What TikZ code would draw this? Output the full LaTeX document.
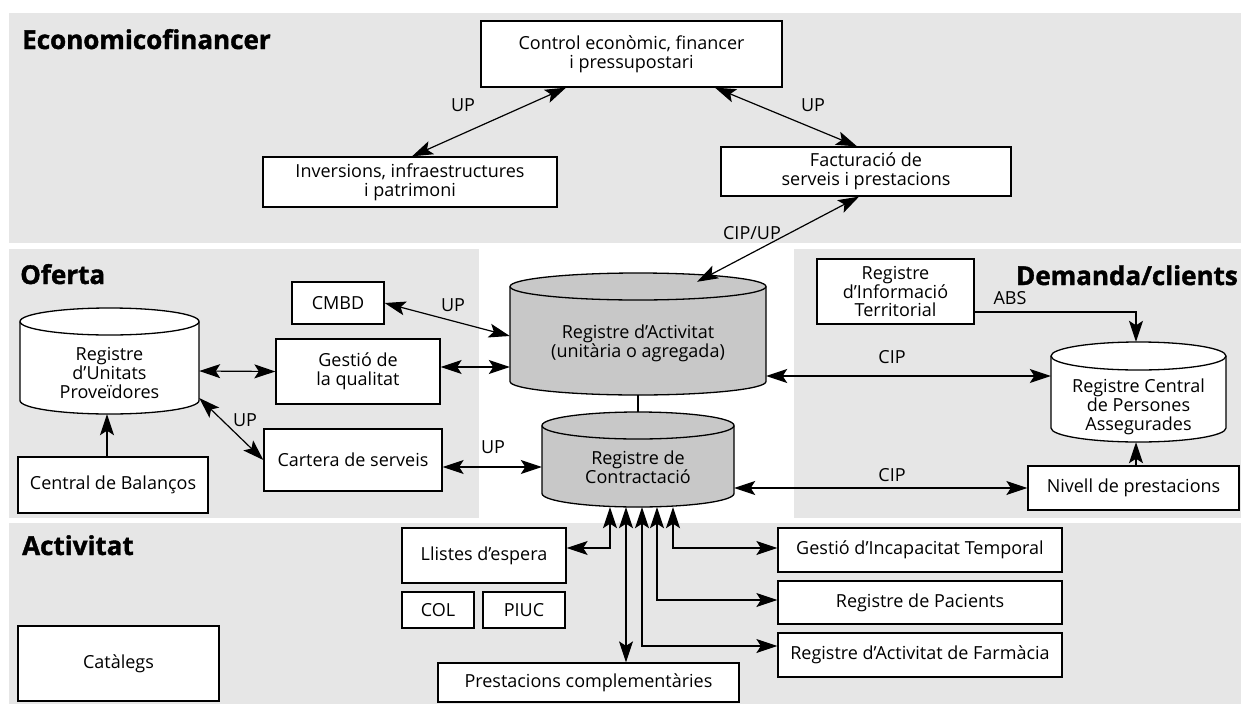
\documentclass[tikz,border=0pt]{standalone}
\usepackage{fontspec}
\setmainfont{Open Sans}
\newfontfamily\headfamily{Open Sans}[BoldFeatures={FakeBold=1.5}]
\usetikzlibrary{arrows.meta,calc}

\definecolor{panelgray}{RGB}{230,230,230}
\definecolor{drumgray}{RGB}{200,200,200}

\newcommand\bodytext{\fontsize{18}{19}\selectfont}
\newcommand\headtext{\headfamily\fontsize{26}{27}\selectfont\bfseries}

% vertical database drum: x1, x2, y top, y bottom, ellipse y radius, fill colour
\newcommand\dbdrum[6]{%
  \filldraw[line width=1.3pt, fill=#6]
    (#1,{-(#3)-(#5)}) -- (#1,{-(#4)+(#5)})
    arc[start angle=180, end angle=360, x radius={((#2)-(#1))/2}, y radius=#5]
    -- (#2,{-(#3)-(#5)})
    arc[start angle=0, end angle=180, x radius={((#2)-(#1))/2}, y radius=#5]
    -- cycle;
  \draw[line width=1.3pt] (#1,{-(#3)-(#5)})
    arc[start angle=180, end angle=360, x radius={((#2)-(#1))/2}, y radius=#5];
}

\begin{document}
\begin{tikzpicture}[x=1pt, y=1pt,
  box/.style={draw, fill=white, line width=1.3pt, inner sep=0pt, align=center, font=\bodytext},
  lab/.style={inner sep=0pt, font=\bodytext},
  head/.style={inner sep=0pt, font=\headtext},
  drumtext/.style={inner sep=0pt, align=center, font=\bodytext},
  hull/.style={inner sep=0pt, draw=none},
  link/.style={line width=1.2pt},
  both/.style={link, {Stealth[length=21pt, width=14pt, inset=4.5pt]}-{Stealth[length=21pt, width=14pt, inset=4.5pt]}},
  one/.style={link, -{Stealth[length=21pt, width=14pt, inset=4.5pt]}}
]
\useasboundingbox (0,0) rectangle (1241,-704);

% background bands
\fill[panelgray] (9,-13) rectangle (1241,-243);
\fill[panelgray] (9,-249) rectangle (479,-518);
\fill[panelgray] (794,-249) rectangle (1241,-518);
\fill[panelgray] (9,-523) rectangle (1241,-704);

% section titles
\node[head, anchor=base west] (teco) at (22,-49) {Economicofinancer};
\node[head, anchor=base west] (tofe) at (20,-284) {Oferta};
\node[head, anchor=base east] (tdem) at (1238,-285) {Demanda/clients};
\node[head, anchor=base west] (tact) at (22,-555) {Activitat};

% databases
\dbdrum{20}{199}{308}{414}{13.5}{white}
\dbdrum{510}{766}{273}{395}{13.5}{drumgray}
\dbdrum{542}{734}{412}{507}{13.5}{drumgray}
\dbdrum{1051}{1226}{342}{442}{14}{white}

\node[hull, minimum width=179pt, minimum height=106pt] (rup) at (109.5,-361) {};
\node[hull, minimum width=256pt, minimum height=122pt] (ract) at (638,-334) {};
\node[hull, minimum width=192pt, minimum height=95pt] (rcon) at (638,-459.5) {};
\node[hull, minimum width=175pt, minimum height=100pt] (rcp) at (1138.5,-392) {};

\node[drumtext] (ruptxt) at (109.5,-373) {Registre\\d’Unitats\\Proveïdores};
\node[drumtext] (racttxt) at (638,-343) {Registre d’Activitat\\(unitària o agregada)};
\node[drumtext] (rcontxt) at (638,-467) {Registre de\\Contractació};
\node[drumtext] (rcptxt) at (1138.5,-407) {Registre Central\\de Persones\\Assegurades};

% boxes
\node[box, minimum width=301pt, minimum height=66pt] (ctrl) at (631.5,-54) {Control econòmic, financer\\i pressupostari};
\node[box, minimum width=294pt, minimum height=50pt] (inv) at (410,-182) {Inversions, infraestructures\\i patrimoni};
\node[box, minimum width=290pt, minimum height=49pt] (fact) at (866,-171.5) {Facturació de\\serveis i prestacions};
\node[box, minimum width=92pt, minimum height=42pt] (cmbd) at (338,-303) {CMBD};
\node[box, minimum width=164pt, minimum height=65pt] (qual) at (358,-371.5) {Gestió de\\la qualitat};
\node[box, minimum width=178pt, minimum height=62pt] (cart) at (353,-460) {Cartera de serveis};
\node[box, minimum width=190pt, minimum height=56pt] (bal) at (113,-485) {Central de Balanços};
\node[box, minimum width=157pt, minimum height=65pt, font=\fontsize{18}{18}\selectfont] (rit) at (895.5,-291.5) {Registre\\d’Informació\\Territorial};
\node[box, minimum width=211pt, minimum height=44pt] (niv) at (1133.5,-488) {Nivell de prestacions};
\node[box, minimum width=164pt, minimum height=55pt] (llis) at (484,-555.5) {Llistes d’espera};
\node[box, minimum width=72pt, minimum height=36pt] (col) at (438,-610) {COL};
\node[box, minimum width=82pt, minimum height=36pt] (piuc) at (524,-610) {PIUC};
\node[box, minimum width=301pt, minimum height=39pt] (pres) at (588.5,-682.5) {Prestacions complementàries};
\node[box, minimum width=284pt, minimum height=44pt] (git) at (920,-550) {Gestió d’Incapacitat Temporal};
\node[box, minimum width=284pt, minimum height=43pt] (pac) at (920,-602.5) {Registre de Pacients};
\node[box, minimum width=284pt, minimum height=44pt] (farm) at (920,-655) {Registre d’Activitat de Farmàcia};
\node[box, minimum width=201pt, minimum height=75pt] (cat) at (118.5,-663.5) {Catàlegs};

% connector labels
\node[lab] (lup1) at (463,-105) {UP};
\node[lab] (lup2) at (813,-105) {UP};
\node[lab] (lcipup) at (752,-233) {CIP/UP};
\node[lab] (lup3) at (453,-305) {UP};
\node[lab] (lup4) at (245,-420) {UP};
\node[lab] (lup5) at (493,-447) {UP};
\node[lab] (labs) at (1010,-298) {ABS};
\node[lab] (lcip1) at (892,-357) {CIP};
\node[lab] (lcip2) at (892,-475) {CIP};

% connectors: economicofinancer band
\draw[both] ([xshift=-65.5pt]ctrl.south) -- ([xshift=2pt]inv.north);
\draw[both] ([xshift=83.5pt]ctrl.south) -- ([xshift=-9pt]fact.north);
\draw[both] ([xshift=-7pt]fact.south) -- ([shift={(59pt,-9pt)}]ract.north);

% connectors: oferta band
\draw[both] (cmbd.east) -- ([yshift=-2pt]ract.west);
\draw[both] ([yshift=4.5pt]qual.east) -- ([yshift=-33pt]ract.west);
\draw[both] ([yshift=-10pt]rup.east) -- (qual.west);
\draw[both] ([yshift=-37pt]rup.east) -- (cart.west);
\draw[one] ([xshift=-6pt]bal.north) -- ([xshift=-6pt]bal.north |- rup.south);
\draw[both] ([yshift=-7pt]cart.east) -- ([yshift=-7.5pt]rcon.west);
\draw[link] (ract.south) -- (rcon.north);

% connectors: demanda band
\draw[one] ([yshift=-20.5pt]rit.east) -| ([xshift=-2.5pt]rcp.north);
\draw[both] ([yshift=-42pt]ract.east) -- ([yshift=16pt]rcp.west);
\draw[both] ([yshift=-28.5pt]rcon.east) -- (niv.west);
\draw[one] ([xshift=2.5pt]niv.north) -- ([xshift=2.5pt]niv.north |- rcp.south);

% connectors: activitat band
\draw[both] ([xshift=-28pt]rcon.south) |- ([yshift=7.5pt]llis.east);
\draw[both] ([xshift=-12pt]rcon.south) -- ([xshift=-12pt]rcon.south |- pres.north);
\draw[both] ([xshift=4pt]rcon.south) |- ([yshift=9pt]farm.west);
\draw[both] ([xshift=19pt]rcon.south) |- ([yshift=2.5pt]pac.west);
\draw[both] ([xshift=35pt]rcon.south) |- ([yshift=2pt]git.west);
\end{tikzpicture}
\end{document}
